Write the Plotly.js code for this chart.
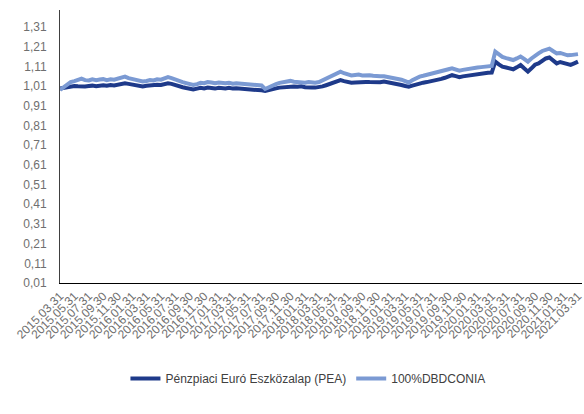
<!DOCTYPE html>
<html>
<head>
<meta charset="utf-8">
<script src="https://cdn.plot.ly/plotly-3.0.1.min.js"></script>
<style>html,body{margin:0;padding:0;background:#fff;}#chart{width:584px;height:414px;}</style>
</head>
<body>
<div id="chart"></div>
<script>
// Semi-monthly observations from 2015-03-31 to 2021-03-31 (mid-month and month-end)
const startYear = 2015, startMonth = 3, halfMonthCount = 145;

const seriesPEA = [
0.997,1.000,1.005,1.008,1.010,1.009,1.011,1.008,1.010,1.012,
1.009,1.012,1.014,1.011,1.015,1.013,1.018,1.020,1.024,1.021,
1.017,1.013,1.010,1.008,1.011,1.014,1.012,1.016,1.015,1.019,
1.024,1.021,1.014,1.008,1.004,1.000,0.996,0.993,0.997,1.001,
0.998,1.002,1.000,0.997,1.001,0.999,0.998,1.001,0.997,0.999,
0.998,0.996,0.995,0.993,0.992,0.990,0.988,0.985,0.988,0.993,
0.998,1.002,1.004,1.007,1.010,1.008,1.006,1.009,1.004,1.006,
1.003,1.002,1.003,1.008,1.014,1.020,1.027,1.033,1.040,1.035,
1.030,1.027,1.028,1.030,1.027,1.031,1.030,1.028,1.031,1.029,
1.033,1.030,1.028,1.024,1.020,1.015,1.010,1.007,1.012,1.018,
1.024,1.027,1.030,1.033,1.037,1.040,1.046,1.052,1.058,1.065,
1.060,1.055,1.059,1.062,1.065,1.068,1.070,1.073,1.075,1.077,
1.078,1.134,1.120,1.108,1.104,1.100,1.095,1.105,1.117,1.100,
1.083,1.100,1.118,1.125,1.140,1.150,1.155,1.140,1.125,1.132,
1.128,1.120,1.117,1.125,1.134];

const seriesDBDCONIA = [
0.990,1.005,1.020,1.030,1.035,1.040,1.048,1.040,1.038,1.044,
1.040,1.043,1.045,1.040,1.044,1.042,1.048,1.052,1.058,1.050,
1.045,1.040,1.035,1.033,1.036,1.040,1.038,1.044,1.042,1.048,
1.055,1.050,1.042,1.035,1.030,1.025,1.020,1.015,1.020,1.026,
1.024,1.030,1.028,1.024,1.028,1.025,1.024,1.027,1.022,1.024,
1.022,1.020,1.019,1.016,1.016,1.014,1.013,0.995,1.005,1.015,
1.020,1.026,1.030,1.034,1.036,1.032,1.030,1.033,1.027,1.030,
1.028,1.027,1.030,1.038,1.047,1.056,1.066,1.075,1.083,1.075,
1.068,1.064,1.066,1.068,1.064,1.066,1.065,1.062,1.063,1.060,
1.060,1.057,1.055,1.050,1.047,1.042,1.035,1.027,1.040,1.050,
1.058,1.062,1.066,1.070,1.075,1.078,1.084,1.090,1.095,1.100,
1.094,1.088,1.092,1.096,1.098,1.102,1.104,1.106,1.108,1.110,
1.112,1.185,1.170,1.158,1.152,1.148,1.142,1.150,1.160,1.148,
1.134,1.150,1.165,1.176,1.188,1.196,1.200,1.188,1.176,1.178,
1.172,1.166,1.167,1.170,1.172];

const yTickVals = [0.01,0.11,0.21,0.31,0.41,0.51,0.61,0.71,0.81,0.91,1.01,1.11,1.21,1.31];
const yTickText = ["0,01","0,11","0,21","0,31","0,41","0,51","0,61","0,71","0,81","0,91","1,01","1,11","1,21","1,31"];

const seriesNames = ["Pénzpiaci Euró Eszközalap (PEA)", "100%DBDCONIA"];

function pad(n){return (n<10?"0":"")+n;}
function monthEnd(y,m){return new Date(Date.UTC(y,m,0)).getUTCDate();}

const dates = [];
{
  let y = startYear, m = startMonth;
  for (let k = 0; k < halfMonthCount; k++) {
    if (k % 2 === 0) {
      dates.push(y + "-" + pad(m) + "-" + pad(monthEnd(y,m)));
      m++; if (m > 12) { m = 1; y++; }
    } else {
      dates.push(y + "-" + pad(m) + "-15");
    }
  }
}

const xTickVals = [], xTickText = [];
{
  let y = startYear, m = startMonth;
  while (y < 2021 || (y === 2021 && m <= 3)) {
    const d = monthEnd(y,m);
    xTickVals.push(y + "-" + pad(m) + "-" + pad(d));
    xTickText.push(y + "." + pad(m) + "." + pad(d));
    m += 2; if (m > 12) { m -= 12; y++; }
  }
}

const fontFam = "Liberation Sans, Arial, sans-serif";
const txtCol = "#6f6f6f";

const traces = [
  {x: dates, y: seriesPEA, name: seriesNames[0], type: "scatter", mode: "lines",
   line: {color: "#1e3a8a", width: 4}},
  {x: dates, y: seriesDBDCONIA, name: seriesNames[1], type: "scatter", mode: "lines",
   line: {color: "#7b9ad3", width: 4}}
];

const layout = {
  width: 584, height: 414,
  margin: {l: 60, r: 2, t: 10, b: 131},
  paper_bgcolor: "#fff", plot_bgcolor: "#fff",
  showlegend: true,
  legend: {orientation: "h", x: 0.475, xanchor: "center", y: -0.35, yanchor: "middle",
           font: {family: fontFam, size: 12, color: "#404040"}, itemwidth: 30},
  xaxis: {type: "date", range: ["2015-03-31", "2021-04-17"],
          tickmode: "array", tickvals: xTickVals, ticktext: xTickText,
          tickangle: -45, showgrid: false, zeroline: false,
          showline: true, linecolor: "#000", linewidth: 1.3, ticks: "",
          ticklabeloverflow: "allow",
          tickfont: {family: fontFam, size: 12, color: txtCol}},
  yaxis: {range: [0.01, 1.396], tickmode: "array", tickvals: yTickVals, ticktext: yTickText,
          showgrid: false, zeroline: false, showline: true, linecolor: "#404040", linewidth: 1,
          ticks: "", ticklabelstandoff: 10,
          tickfont: {family: fontFam, size: 12, color: txtCol}}
};

Plotly.newPlot("chart", traces, layout, {displayModeBar: false, staticPlot: true});
</script>
</body>
</html>
